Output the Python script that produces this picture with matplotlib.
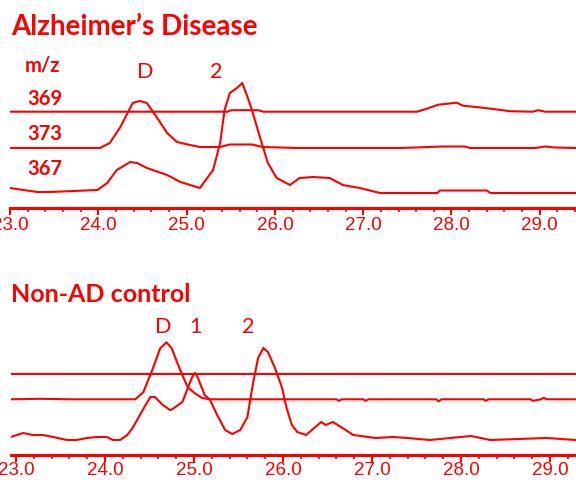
import matplotlib
matplotlib.use("Agg")
import matplotlib.pyplot as plt
from matplotlib.ticker import MultipleLocator, FormatStrFormatter
import numpy as np

RED = "#ff0000"

# ---- Alzheimer's Disease panel: retention time (min) and intensity above baseline
ad_369_t = [23.00, 25.46, 25.51, 25.81, 25.87, 27.61, 27.72, 27.85, 28.06, 28.13,
            28.30, 28.49, 28.66, 28.92, 28.98, 29.06, 29.41]
ad_369_i = [0, 0, 1.5, 1.5, 0, 0, 3, 7, 9, 6, 4.5, 2.5, 0.5, 0, 1.5, 0, 0]

ad_373_t = [23.00, 24.02, 24.13, 24.25, 24.39, 24.47, 24.55, 24.66, 24.78, 24.89,
            25.04, 25.15, 25.38, 25.49, 25.74, 25.86, 26.25, 27.42, 27.90, 28.15,
            28.21, 28.95, 29.06, 29.17, 29.41]
ad_373_i = [0, 0, 5, 21, 45, 47, 45, 31, 15, 6, 3, 1, 1, 3.5, 3.5, 1, 0, 0, 1.5, 1.5,
            0, 0, 1.5, 0.5, 0]

ad_367_t = [23.00, 23.15, 23.31, 23.45, 23.99, 24.10, 24.21, 24.36, 24.44, 24.55,
            24.78, 24.93, 25.15, 25.30, 25.38, 25.43, 25.49, 25.57, 25.63, 25.69,
            25.74, 25.83, 25.92, 26.02, 26.17, 26.28, 26.43, 26.62, 26.77, 26.96,
            27.19, 27.84, 27.87, 28.40, 28.44, 29.41]
ad_367_i = [5, 3, 1, 1, 3, 10, 23, 31, 30, 25, 18, 11, 5, 23, 50, 83, 100, 105, 110,
            96, 83, 56, 30, 15, 8, 15, 16, 15, 8, 5, 0, 0, 2.5, 2.5, 0, 0]

# ---- Non-AD control panel
ctl_a_t = [22.94, 29.29]
ctl_a_i = [0, 0]

ctl_b_t = [22.94, 23.27, 23.61, 23.94, 24.34, 24.43, 24.53, 24.62, 24.69, 24.75,
           24.81, 24.87, 24.93, 25.01, 25.09, 25.18, 26.60, 26.63, 26.66, 26.90,
           26.93, 26.96, 27.72, 27.75, 27.78, 28.25, 28.28, 28.31, 28.78, 28.81,
           28.90, 28.93, 28.96, 29.29]
ctl_b_i = [0, 0.5, 0, 0, 0, 7, 29, 51, 57, 51, 37, 24, 12, 6, 1.3, 0, 0, -1.5, 0, 0,
           -1.5, 0, 0, -2, 0, 0, -1.5, 0, 0, -1.5, 0, 1.5, 0, 0]

ctl_c_t = [22.94, 23.08, 23.19, 23.30, 23.42, 23.57, 23.68, 23.80, 23.91, 24.02,
           24.09, 24.17, 24.25, 24.31, 24.43, 24.51, 24.56, 24.65, 24.73, 24.76,
           24.87, 24.93, 24.98, 25.01, 25.04, 25.12, 25.18, 25.26, 25.35, 25.43,
           25.52, 25.60, 25.66, 25.72, 25.78, 25.83, 25.91, 25.99, 26.04, 26.10,
           26.16, 26.26, 26.35, 26.43, 26.48, 26.56, 26.67, 26.79, 27.04, 27.24,
           27.40, 27.65, 28.11, 28.33, 28.96, 29.29]
ctl_c_i = [3, 7, 5, 5, 3, 0, 0, 2, 3, 3, 0, 0, 5, 12, 31, 43, 43, 35, 30, 31, 38, 52,
           63, 67, 63, 45, 40, 25, 10, 6, 10, 23, 55, 82, 92, 88, 72, 52, 32, 15, 8, 5,
           12, 18, 15, 18, 12, 5, 2, 3, 2, 0, 4, 0, 2, 0]

ticks = [23.0, 24.0, 25.0, 26.0, 27.0, 28.0, 29.0]

W, H = 576, 480
fig = plt.figure(figsize=(W / 100, H / 100), dpi=100)


def px_axes(left, right, top, bottom):
    return fig.add_axes([left / W, 1 - bottom / H, (right - left) / W, (bottom - top) / H])


def style(ax, xlim, ylim, pad):
    ax.set_xlim(*xlim)
    ax.set_ylim(*ylim)
    for s in ("top", "left", "right"):
        ax.spines[s].set_visible(False)
    ax.spines["bottom"].set_color(RED)
    ax.spines["bottom"].set_linewidth(2.2)
    ax.set_yticks([])
    ax.set_xticks(ticks)
    ax.xaxis.set_minor_locator(MultipleLocator(0.2))
    ax.xaxis.set_major_formatter(FormatStrFormatter("%.1f"))
    ax.tick_params(axis="x", which="major", direction="out", length=5, width=1.5,
                   color=RED, labelcolor=RED, pad=pad, labelsize=13.5)
    ax.tick_params(axis="x", which="minor", direction="out", length=3, width=1.2, color=RED)
    for lab in ax.get_xticklabels():
        lab.set_family(["Liberation Sans", "DejaVu Sans"])
    ax.patch.set_alpha(0)


# top panel
ax1 = px_axes(10, 576, 40, 207.7)
style(ax1, (23.0, 29.41), (0, 167.7), 2)
for t, i, off in [(ad_369_t, ad_369_i, 96.0), (ad_373_t, ad_373_i, 59.7),
                  (ad_367_t, ad_367_i, 14.7)]:
    ax1.plot(t, np.array(i) + off, color=RED, lw=1.5)

# bottom panel
ax2 = px_axes(11, 576, 330, 455)
style(ax2, (22.944, 29.292), (0, 125), 0)
for t, i, off in [(ctl_a_t, ctl_a_i, 80.7), (ctl_b_t, ctl_b_i, 55.7),
                  (ctl_c_t, ctl_c_i, 15.0)]:
    ax2.plot(t, np.array(i) + off, color=RED, lw=1.5)


def ptext(x, y, s, size, bold=False):
    fig.text(x / W, 1 - y / H, s, color=RED, fontsize=size, family=["Lato", "DejaVu Sans"],
             fontweight="bold" if bold else "normal", ha="left", va="baseline")


ptext(11, 35, "Alzheimer\u2019s Disease", 20, bold=True)
ptext(25, 72, "m/z", 14.5, bold=True)
ptext(27, 105, "369", 14.5, bold=True)
ptext(27, 140, "373", 14.5, bold=True)
ptext(27, 175, "367", 14.5, bold=True)
ptext(137, 78, "D", 15.5)
ptext(210, 78, "2", 15.5)

ptext(11, 302, "Non-AD control", 18, bold=True)
ptext(155, 333, "D", 15.5)
ptext(189, 333, "1", 15.5)
ptext(242, 333, "2", 15.5)

fig.savefig("out.png", dpi=100)
